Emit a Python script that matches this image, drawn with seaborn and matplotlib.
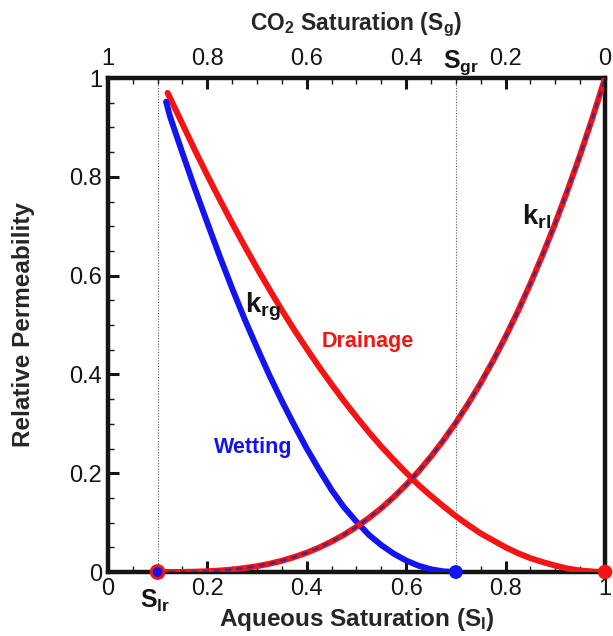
import numpy as np
import pandas as pd
import matplotlib
matplotlib.use("Agg")
import matplotlib.pyplot as plt
import seaborn as sns
from matplotlib.ticker import MultipleLocator

# ---- data ----
s_krl = [0.100, 0.125, 0.150, 0.175, 0.200, 0.225, 0.250, 0.275, 0.300, 0.325,
         0.350, 0.375, 0.400, 0.425, 0.450, 0.475, 0.500, 0.525, 0.550, 0.575,
         0.600, 0.625, 0.650, 0.675, 0.700, 0.725, 0.750, 0.775, 0.800, 0.825,
         0.850, 0.875, 0.900, 0.925, 0.950, 0.975, 1.000]
krl = [0.0, 0.0, 0.0002, 0.0007, 0.0015, 0.003, 0.005, 0.008, 0.0118, 0.0167,
       0.0228, 0.0303, 0.0391, 0.0495, 0.0617, 0.0756, 0.0914, 0.1093, 0.1294, 0.1518,
       0.1766, 0.2039, 0.2339, 0.2667, 0.3023, 0.3411, 0.3829, 0.428, 0.4765, 0.5284,
       0.584, 0.6434, 0.7064, 0.7736, 0.8448, 0.9202, 1.0]

s_drain = [0.120, 0.150, 0.175, 0.200, 0.225, 0.250, 0.275, 0.300, 0.325, 0.350,
           0.375, 0.400, 0.425, 0.450, 0.475, 0.500, 0.525, 0.550, 0.575, 0.600,
           0.625, 0.650, 0.675, 0.700, 0.725, 0.750, 0.775, 0.800, 0.825, 0.850,
           0.875, 0.900, 0.925, 0.950, 0.975, 1.000]
krg_drain = [0.970, 0.907, 0.854, 0.803, 0.754, 0.706, 0.660, 0.615, 0.572, 0.530,
             0.490, 0.452, 0.415, 0.380, 0.346, 0.314, 0.283, 0.254, 0.227, 0.201,
             0.176, 0.154, 0.133, 0.113, 0.095, 0.078, 0.064, 0.050, 0.038, 0.028,
             0.020, 0.013, 0.007, 0.003, 0.001, 0.0]

s_wet = [0.117, 0.125, 0.150, 0.175, 0.200, 0.225, 0.250, 0.275, 0.300, 0.325,
         0.350, 0.375, 0.400, 0.425, 0.450, 0.475, 0.500, 0.525, 0.550, 0.575,
         0.600, 0.625, 0.650, 0.675, 0.700]
krg_wet = [0.952, 0.922, 0.848, 0.776, 0.707, 0.639, 0.574, 0.512, 0.454, 0.398,
           0.346, 0.297, 0.250, 0.207, 0.166, 0.131, 0.102, 0.0752, 0.0544, 0.0371,
           0.0232, 0.0127, 0.0054, 0.0013, 0.0]

bottom_ticks = [0, 0.2, 0.4, 0.6, 0.8, 1]
bottom_labels = ["0", "0.2", "0.4", "0.6", "0.8", "1"]
left_ticks = [0, 0.2, 0.4, 0.6, 0.8, 1]
left_labels = ["0", "0.2", "0.4", "0.6", "0.8", "1"]
top_ticks = [1, 0.8, 0.6, 0.4, 0.2, 0]
top_labels = ["1", "0.8", "0.6", "0.4", "0.2", "0"]
s_lr = 0.1
s_gr_aq = 0.7   # aqueous saturation where S_g = S_gr (0.3)

RED = "#f41414"
BLUE = "#1414f0"
NAVY = "#3a2c8c"
INK = "#151515"

sns.set_theme(style="ticks")
plt.rcParams["font.family"] = ["Liberation Sans", "DejaVu Sans"]
plt.rcParams["mathtext.fontset"] = "custom"
plt.rcParams["mathtext.rm"] = "Liberation Sans"
plt.rcParams["mathtext.bf"] = "Liberation Sans:bold"
plt.rcParams["mathtext.it"] = "Liberation Sans:italic"

fig = plt.figure(figsize=(6.13, 6.36), dpi=100)
ax = fig.add_axes([0.176, 0.1006, 0.811, 0.7767])

# dotted reference lines
ax.axvline(s_lr, color="#555555", lw=0.8, ls=(0, (1, 1.5)), zorder=1)
ax.axvline(s_gr_aq, color="#555555", lw=0.8, ls=(0, (1, 1.5)), zorder=1)

df_krl = pd.DataFrame({"S": s_krl, "k": krl})
df_dr = pd.DataFrame({"S": s_drain, "k": krg_drain})
df_wt = pd.DataFrame({"S": s_wet, "k": krg_wet})

common = dict(sort=False, estimator=None, solid_joinstyle="round")
sns.lineplot(data=df_dr, x="S", y="k", ax=ax, color=RED, lw=4.3, zorder=3, **common)
sns.lineplot(data=df_wt, x="S", y="k", ax=ax, color=BLUE, lw=4.3, zorder=3, **common)
sns.lineplot(data=df_krl, x="S", y="k", ax=ax, color=RED, lw=4.3, zorder=4, **common)
sns.lineplot(data=df_krl, x="S", y="k", ax=ax, color=NAVY, lw=1.8, sort=False,
             estimator=None, zorder=5, linestyle=(0, (2.5, 2.0)))

# end-point markers
sns.scatterplot(x=[s_lr, 1.0], y=[0, 0], ax=ax, color=RED, size=[130, 110],
                sizes=(110, 130), legend=False, edgecolor="none",
                zorder=6, clip_on=False)
sns.scatterplot(x=[s_lr, s_gr_aq], y=[0, 0], ax=ax, color=BLUE, size=[50, 100],
                sizes=(50, 100), legend=False, edgecolor="none", zorder=7,
                clip_on=False)

ax.set_xlim(0, 1)
ax.set_ylim(0, 1)
ax.set_xticks(bottom_ticks)
ax.set_xticklabels(bottom_labels)
ax.set_yticks(left_ticks)
ax.set_yticklabels(left_labels)
ax.xaxis.set_minor_locator(MultipleLocator(0.05))
ax.yaxis.set_minor_locator(MultipleLocator(0.05))
ax.tick_params(which="major", direction="in", length=8, width=2.2,
               labelsize=17, pad=4, colors=INK)
ax.tick_params(which="minor", direction="in", length=4, width=1.0, colors=INK)
ax.tick_params(top=False, right=False, which="both")
for sp in ax.spines.values():
    sp.set_linewidth(3.2)
    sp.set_color(INK)

ax.set_xlabel(r"Aqueous Saturation (S$_\mathbf{l}$)", fontsize=17.5, fontweight="bold")
ax.set_ylabel("Relative Permeability", fontsize=17.5, fontweight="bold")
ax.xaxis.set_label_coords(0.5, -0.097)
ax.xaxis.label.set_va("center")
ax.yaxis.set_label_coords(-0.169, 0.5)
ax.yaxis.label.set_va("center")
ax.grid(False)

# top axis (CO2 saturation)
ax2 = ax.twiny()
ax2.set_xlim(1, 0)
ax2.set_xticks(top_ticks)
ax2.set_xticklabels(top_labels)
ax2.xaxis.set_minor_locator(MultipleLocator(0.05))
ax2.tick_params(which="major", direction="in", length=8, width=2.2,
                labelsize=17, pad=6, colors=INK)
ax2.tick_params(which="minor", direction="in", length=4, width=1.0, colors=INK)
for sp in ax2.spines.values():
    sp.set_visible(False)
ax2.set_xlabel(r"CO$_\mathbf{2}$ Saturation (S$_\mathbf{g}$)", fontsize=16.5,
               fontweight="bold")
ax2.xaxis.set_label_coords(0.5, 1.107)
ax2.xaxis.label.set_va("center")
ax2.grid(False)

# special labels
ax.text(0.095, -0.058, r"$\mathbf{S}_\mathbf{lr}$", fontsize=18, ha="center", va="center",
        color=INK, clip_on=False)
ax.text(0.71, 1.032, r"$\mathbf{S}_\mathbf{gr}$", fontsize=18, ha="center", va="center",
        color=INK, clip_on=False)

# annotations
ax.text(0.312, 0.536, r"$\mathbf{k}_\mathbf{rg}$", fontsize=20, ha="center", va="center",
        color=INK)
ax.text(0.862, 0.72, r"$\mathbf{k}_\mathbf{rl}$", fontsize=20, ha="center", va="center",
        color=INK)
ax.text(0.523, 0.466, "Drainage", fontsize=15.5, fontweight="bold", color=RED,
        ha="center", va="center")
ax.text(0.292, 0.253, "Wetting", fontsize=15.5, fontweight="bold", color=BLUE,
        ha="center", va="center")

fig.savefig("out.png", dpi=100)
